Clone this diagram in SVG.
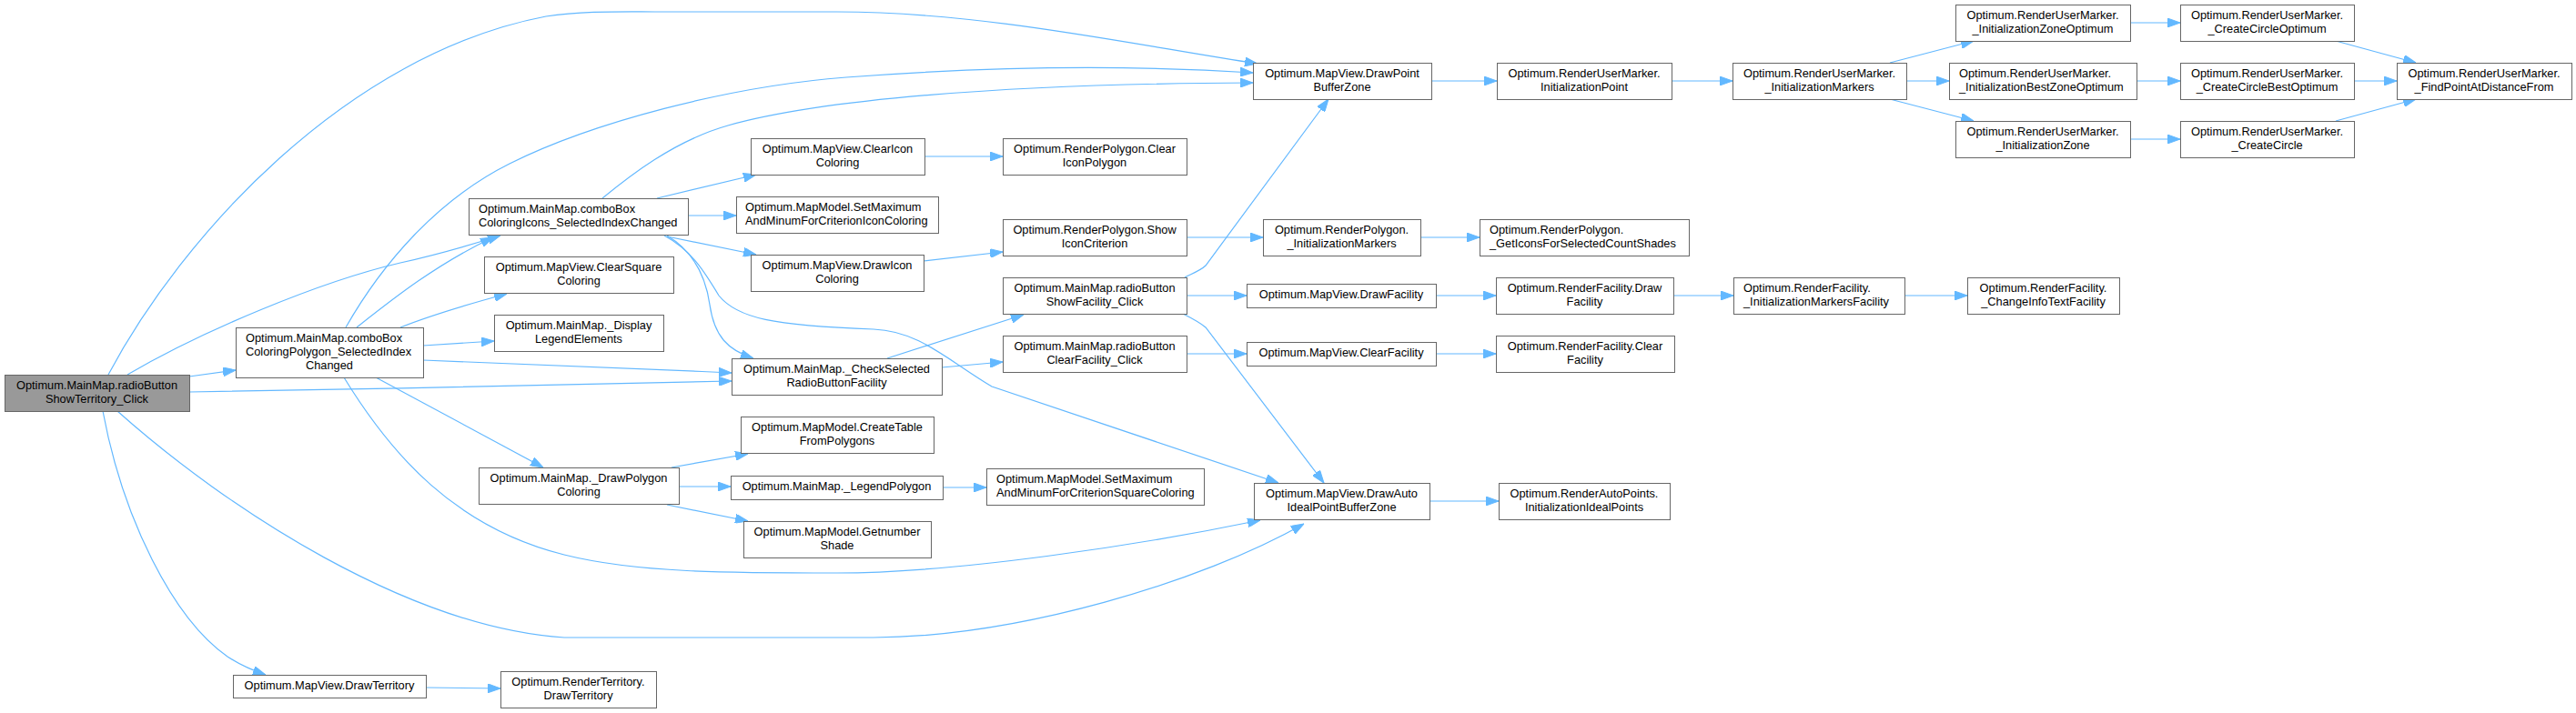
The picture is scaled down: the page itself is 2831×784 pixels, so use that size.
<svg xmlns="http://www.w3.org/2000/svg" width="2831" height="784" viewBox="0 0 2831 784">
<style>
.node rect{fill:#ffffff;stroke:#666666;stroke-width:1}
.root rect{fill:#999999}
text{font-family:"Liberation Sans",Arial,sans-serif;font-size:12.8px;fill:#000000}
.c{text-anchor:middle}
.l{text-anchor:start}
.edge path{fill:none;stroke:#63b8ff;stroke-width:1.2;marker-end:url(#arr)}
</style>
<defs>
<marker id="arr" markerUnits="userSpaceOnUse" markerWidth="14" markerHeight="10" refX="14" refY="5" orient="auto">
<path d="M0,0 L14,5 L0,10 z" fill="#63b8ff" stroke="#63b8ff" stroke-width="1"/>
</marker>
</defs>
<rect width="2831" height="784" fill="#ffffff"/>
<g id="edges" class="edge">
<path d="M119,412 C200,260 380,60 600,18 C640,12 680,13 720,13 L920,13 C1080,13 1250,50 1382,70"/>
<path d="M140,412 C220,365 350,310 440,289 C480,280 515,270 550,259"/>
<path d="M208,414 L259,407"/>
<path d="M208,431 C400,428 650,423 804,419"/>
<path d="M129,452 C250,560 450,690 620,701 L960,701 C1120,700 1320,640 1433,576"/>
<path d="M113,452 C135,570 190,680 250,722 C265,732 280,738 292,742"/>
<path d="M380,360 C420,290 480,220 560,180 C650,135 800,95 930,85 C1100,72 1250,72 1377,80"/>
<path d="M392,360 C430,330 480,290 542,261"/>
<path d="M440,360 C470,348 520,333 557,323"/>
<path d="M465,380 L543,375"/>
<path d="M465,396 C600,402 700,405 804,410"/>
<path d="M413,415 L597,514"/>
<path d="M378,415 C430,500 500,580 620,610 C700,630 800,630 920,630 C1050,630 1250,600 1385,572"/>
<path d="M662,218 C690,195 740,155 800,138 C900,110 1100,92 1377,91"/>
<path d="M722,218 L831,192"/>
<path d="M756,237 L809,237"/>
<path d="M733,260 L831,280"/>
<path d="M733,259 C760,275 775,300 780,335 C785,370 800,385 828,394"/>
<path d="M730,259 C760,275 775,300 790,325 C810,350 850,358 960,362 C1010,364 1040,395 1090,425 L1405,531"/>
<path d="M1016,172 L1102,172"/>
<path d="M1015,287 L1102,277"/>
<path d="M1304,261 L1388,261"/>
<path d="M1561,261 L1626,261"/>
<path d="M975,394 L1125,346"/>
<path d="M1035,404 L1102,398"/>
<path d="M1302,305 C1312,300 1320,297 1325,292 L1460,109"/>
<path d="M1304,325 L1370,325"/>
<path d="M1300,345 C1310,350 1318,354 1325,360 L1455,531"/>
<path d="M1304,389 L1370,389"/>
<path d="M1578,325 L1644,325"/>
<path d="M1839,325 L1905,325"/>
<path d="M2093,325 L2162,325"/>
<path d="M1578,389 L1644,389"/>
<path d="M1571,551 L1647,551"/>
<path d="M738,514 L822,499"/>
<path d="M746,535 L803,535"/>
<path d="M733,555 L822,573"/>
<path d="M1036,536 L1084,536"/>
<path d="M468,756 L550,757"/>
<path d="M1573,89 L1645,89"/>
<path d="M1837,89 L1904,89"/>
<path d="M2077,69 L2169,45"/>
<path d="M2095,89 L2142,89"/>
<path d="M2077,109 L2169,133"/>
<path d="M2341,25 L2396,25"/>
<path d="M2348,89 L2396,89"/>
<path d="M2341,153 L2396,153"/>
<path d="M2567,45 L2655,69"/>
<path d="M2587,89 L2634,89"/>
<path d="M2567,133 L2655,109"/>
</g>
<g id="n_root" class="node root"><rect x="5.5" y="412.5" width="203" height="40"/><text class="c" x="106.5" y="428">Optimum.MainMap.radioButton</text><text class="c" x="106.5" y="443">ShowTerritory_Click</text></g>
<g id="n_comboPolygon" class="node"><rect x="259.5" y="360.5" width="206" height="55"/><text class="l" x="270" y="376">Optimum.MainMap.comboBox</text><text class="l" x="270" y="391">ColoringPolygon_SelectedIndex</text><text class="c" x="362" y="406">Changed</text></g>
<g id="n_comboIcons" class="node"><rect x="515.5" y="218.5" width="241" height="40"/><text class="l" x="526" y="234">Optimum.MainMap.comboBox</text><text class="l" x="526" y="249">ColoringIcons_SelectedIndexChanged</text></g>
<g id="n_clearSquare" class="node"><rect x="532.5" y="282.5" width="208" height="40"/><text class="c" x="636" y="298">Optimum.MapView.ClearSquare</text><text class="c" x="636" y="313">Coloring</text></g>
<g id="n_displayLegend" class="node"><rect x="543.5" y="346.5" width="186" height="40"/><text class="c" x="636" y="362">Optimum.MainMap._Display</text><text class="c" x="636" y="377">LegendElements</text></g>
<g id="n_drawPolygon" class="node"><rect x="526.5" y="514.5" width="220" height="40"/><text class="c" x="636" y="530">Optimum.MainMap._DrawPolygon</text><text class="c" x="636" y="545">Coloring</text></g>
<g id="n_drawTerritory" class="node"><rect x="256.5" y="742.5" width="212" height="25"/><text class="c" x="362" y="758">Optimum.MapView.DrawTerritory</text></g>
<g id="n_clearIconColoring" class="node"><rect x="825.5" y="152.5" width="191" height="40"/><text class="c" x="920.5" y="168">Optimum.MapView.ClearIcon</text><text class="c" x="920.5" y="183">Coloring</text></g>
<g id="n_setMaxIcon" class="node"><rect x="809.5" y="216.5" width="222" height="40"/><text class="l" x="819" y="232">Optimum.MapModel.SetMaximum</text><text class="l" x="819" y="247">AndMinumForCriterionIconColoring</text></g>
<g id="n_drawIconColoring" class="node"><rect x="825.5" y="280.5" width="190" height="40"/><text class="c" x="920" y="296">Optimum.MapView.DrawIcon</text><text class="c" x="920" y="311">Coloring</text></g>
<g id="n_checkSelected" class="node"><rect x="804.5" y="394.5" width="231" height="40"/><text class="c" x="919.5" y="410">Optimum.MainMap._CheckSelected</text><text class="c" x="919.5" y="425">RadioButtonFacility</text></g>
<g id="n_createTable" class="node"><rect x="814.5" y="458.5" width="212" height="40"/><text class="c" x="920" y="474">Optimum.MapModel.CreateTable</text><text class="c" x="920" y="489">FromPolygons</text></g>
<g id="n_legendPolygon" class="node"><rect x="803.5" y="523.5" width="233" height="26"/><text class="c" x="919.5" y="539">Optimum.MainMap._LegendPolygon</text></g>
<g id="n_getnumberShade" class="node"><rect x="817.5" y="573.5" width="206" height="40"/><text class="c" x="920" y="589">Optimum.MapModel.Getnumber</text><text class="c" x="920" y="604">Shade</text></g>
<g id="n_renderTerritory" class="node"><rect x="550.5" y="738.5" width="171" height="40"/><text class="c" x="635.5" y="754">Optimum.RenderTerritory.</text><text class="c" x="635.5" y="769">DrawTerritory</text></g>
<g id="n_clearIconPolygon" class="node"><rect x="1102.5" y="152.5" width="202" height="40"/><text class="c" x="1203" y="168">Optimum.RenderPolygon.Clear</text><text class="c" x="1203" y="183">IconPolygon</text></g>
<g id="n_showIconCriterion" class="node"><rect x="1102.5" y="241.5" width="202" height="40"/><text class="c" x="1203" y="257">Optimum.RenderPolygon.Show</text><text class="c" x="1203" y="272">IconCriterion</text></g>
<g id="n_rbShowFacility" class="node"><rect x="1102.5" y="305.5" width="202" height="40"/><text class="c" x="1203" y="321">Optimum.MainMap.radioButton</text><text class="c" x="1203" y="336">ShowFacility_Click</text></g>
<g id="n_rbClearFacility" class="node"><rect x="1102.5" y="369.5" width="202" height="40"/><text class="c" x="1203" y="385">Optimum.MainMap.radioButton</text><text class="c" x="1203" y="400">ClearFacility_Click</text></g>
<g id="n_setMaxSquare" class="node"><rect x="1084.5" y="515.5" width="239" height="40"/><text class="l" x="1095" y="531">Optimum.MapModel.SetMaximum</text><text class="l" x="1095" y="546">AndMinumForCriterionSquareColoring</text></g>
<g id="n_drawPointBufferZone" class="node"><rect x="1377.5" y="69.5" width="196" height="40"/><text class="c" x="1475" y="85">Optimum.MapView.DrawPoint</text><text class="c" x="1475" y="100">BufferZone</text></g>
<g id="n_rpInitMarkers" class="node"><rect x="1388.5" y="241.5" width="173" height="40"/><text class="c" x="1474.5" y="257">Optimum.RenderPolygon.</text><text class="c" x="1474.5" y="272">_InitializationMarkers</text></g>
<g id="n_drawFacility" class="node"><rect x="1370.5" y="312.5" width="208" height="26"/><text class="c" x="1474" y="328">Optimum.MapView.DrawFacility</text></g>
<g id="n_clearFacility" class="node"><rect x="1370.5" y="376.5" width="208" height="26"/><text class="c" x="1474" y="392">Optimum.MapView.ClearFacility</text></g>
<g id="n_drawAuto" class="node"><rect x="1378.5" y="531.5" width="193" height="40"/><text class="c" x="1474.5" y="547">Optimum.MapView.DrawAuto</text><text class="c" x="1474.5" y="562">IdealPointBufferZone</text></g>
<g id="n_initPoint" class="node"><rect x="1645.5" y="69.5" width="192" height="40"/><text class="c" x="1741" y="85">Optimum.RenderUserMarker.</text><text class="c" x="1741" y="100">InitializationPoint</text></g>
<g id="n_getIcons" class="node"><rect x="1626.5" y="241.5" width="230" height="40"/><text class="l" x="1637" y="257">Optimum.RenderPolygon.</text><text class="l" x="1637" y="272">_GetIconsForSelectedCountShades</text></g>
<g id="n_rfDrawFacility" class="node"><rect x="1644.5" y="305.5" width="195" height="40"/><text class="c" x="1741.5" y="321">Optimum.RenderFacility.Draw</text><text class="c" x="1741.5" y="336">Facility</text></g>
<g id="n_rfClearFacility" class="node"><rect x="1644.5" y="369.5" width="196" height="40"/><text class="c" x="1742" y="385">Optimum.RenderFacility.Clear</text><text class="c" x="1742" y="400">Facility</text></g>
<g id="n_initIdealPoints" class="node"><rect x="1647.5" y="531.5" width="188" height="40"/><text class="c" x="1741" y="547">Optimum.RenderAutoPoints.</text><text class="c" x="1741" y="562">InitializationIdealPoints</text></g>
<g id="n_rumInitMarkers" class="node"><rect x="1904.5" y="69.5" width="191" height="40"/><text class="c" x="1999.5" y="85">Optimum.RenderUserMarker.</text><text class="c" x="1999.5" y="100">_InitializationMarkers</text></g>
<g id="n_initMarkersFacility" class="node"><rect x="1905.5" y="305.5" width="188" height="40"/><text class="l" x="1916" y="321">Optimum.RenderFacility.</text><text class="l" x="1916" y="336">_InitializationMarkersFacility</text></g>
<g id="n_initZoneOptimum" class="node"><rect x="2149.5" y="5.5" width="192" height="40"/><text class="c" x="2245" y="21">Optimum.RenderUserMarker.</text><text class="c" x="2245" y="36">_InitializationZoneOptimum</text></g>
<g id="n_initBestZoneOptimum" class="node"><rect x="2142.5" y="69.5" width="206" height="40"/><text class="l" x="2153" y="85">Optimum.RenderUserMarker.</text><text class="l" x="2153" y="100">_InitializationBestZoneOptimum</text></g>
<g id="n_initZone" class="node"><rect x="2149.5" y="133.5" width="192" height="40"/><text class="c" x="2245" y="149">Optimum.RenderUserMarker.</text><text class="c" x="2245" y="164">_InitializationZone</text></g>
<g id="n_changeInfoText" class="node"><rect x="2162.5" y="305.5" width="167" height="40"/><text class="c" x="2245.5" y="321">Optimum.RenderFacility.</text><text class="c" x="2245.5" y="336">_ChangeInfoTextFacility</text></g>
<g id="n_createCircleOptimum" class="node"><rect x="2396.5" y="5.5" width="191" height="40"/><text class="c" x="2491.5" y="21">Optimum.RenderUserMarker.</text><text class="c" x="2491.5" y="36">_CreateCircleOptimum</text></g>
<g id="n_createCircleBestOptimum" class="node"><rect x="2396.5" y="69.5" width="191" height="40"/><text class="c" x="2491.5" y="85">Optimum.RenderUserMarker.</text><text class="c" x="2491.5" y="100">_CreateCircleBestOptimum</text></g>
<g id="n_createCircle" class="node"><rect x="2396.5" y="133.5" width="191" height="40"/><text class="c" x="2491.5" y="149">Optimum.RenderUserMarker.</text><text class="c" x="2491.5" y="164">_CreateCircle</text></g>
<g id="n_findPoint" class="node"><rect x="2634.5" y="69.5" width="192" height="40"/><text class="c" x="2730" y="85">Optimum.RenderUserMarker.</text><text class="c" x="2730" y="100">_FindPointAtDistanceFrom</text></g>
</svg>
